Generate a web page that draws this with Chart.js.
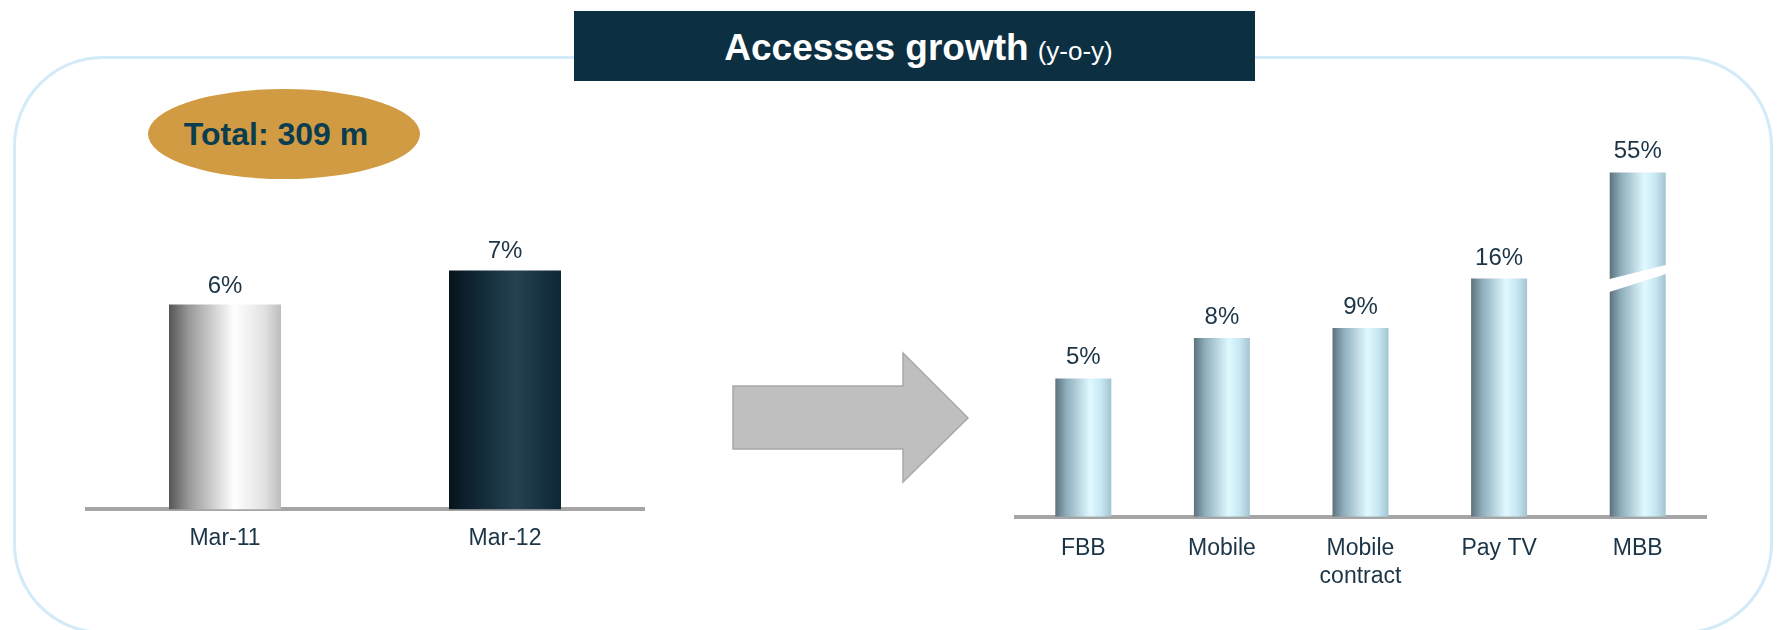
<!DOCTYPE html>
<html>
<head>
<meta charset="utf-8">
<script src="https://cdn.jsdelivr.net/npm/chart.js@4"></script>
<style>
  body { margin: 0; width: 1781px; height: 630px; position: relative; overflow: hidden; background: #fff;
         font-family: "Liberation Sans", Arial, sans-serif; }
  #frame { position: absolute; left: 13px; top: 56px; width: 1760px; height: 578px; box-sizing: border-box;
           border: 3px solid #d3eaf8; border-radius: 90px; }
  #title { position: absolute; left: 574px; top: 11px; width: 681px; height: 70px; background: #0c2f42;
           color: #fff; display: flex; align-items: center; justify-content: center; padding-top: 4px; padding-left: 8px; box-sizing: border-box; }
  #title b { font-size: 37px; }
  #title span { font-size: 26px; margin-left: 9px; margin-top: 6px; }
  #total { position: absolute; left: 148px; top: 89px; width: 272px; height: 90px; border-radius: 50%;
           background: #d19b43; color: #0b3d50; font-weight: bold; font-size: 32px;
           display: flex; align-items: center; justify-content: center; padding-right: 16px; box-sizing: border-box; }
  #arrow { position: absolute; left: 0; top: 0; }
  .box { position: absolute; }
  #leftBox { left: 85px; top: 209px; width: 560px; height: 358px; }
  #rightBox { left: 1014px; top: 121px; width: 693px; height: 487px; }
</style>
</head>
<body>
<div id="frame"></div>
<div id="title"><b>Accesses growth</b><span>(y-o-y)</span></div>
<div id="total">Total: 309 m</div>
<svg id="arrow" width="1781" height="630">
  <polygon points="733,386 903,386 903,353 968,418 903,482 903,449 733,449"
           fill="#bfbfbf" stroke="#a8a8a8" stroke-width="1.5"/>
</svg>
<div class="box" id="leftBox"><canvas id="totalChart"></canvas></div>
<div class="box" id="rightBox"><canvas id="serviceChart"></canvas></div>

<script>
// total accesses growth, y-o-y %
const periods = ['Mar-11', 'Mar-12'];
const totalGrowth = [6, 7];

// growth by service, y-o-y %
const services = ['FBB', 'Mobile', ['Mobile', 'contract'], 'Pay TV', 'MBB'];
const serviceGrowth = [5, 8, 9, 16, 55];
const brokenIndex = services.indexOf('MBB');

const textColor = '#1b3446';
const font = '"Liberation Sans", Arial, sans-serif';

// cylinder-like shading, left to right across each bar
const grayStops = [[0, '#555555'], [0.18, '#999999'], [0.58, '#ffffff'], [0.85, '#e2e2e2'], [1, '#bdbdbd']];
const navyStops = [[0, '#06141c'], [0.3, '#132b39'], [0.6, '#264252'], [0.85, '#15303f'], [1, '#0f2737']];
const iceStops = [[0, '#5d717c'], [0.2, '#8eaebc'], [0.62, '#e0f9ff'], [0.82, '#c6e7f2'], [1, '#a3c3d0']];

function barGradient(stopsFor, pct) {
    return ctx => {
        const chart = ctx.chart;
        const xScale = chart.scales.x;
        const stops = stopsFor(ctx.dataIndex || 0);
        if (ctx.type !== 'data' || !chart.chartArea || !xScale) return stops[2][1];
        const center = xScale.getPixelForValue(ctx.dataIndex);
        const half = xScale.width / chart.data.labels.length * pct / 2;
        const g = chart.ctx.createLinearGradient(center - half, 0, center + half, 0);
        stops.forEach(s => g.addColorStop(s[0], s[1]));
        return g;
    };
}

// "n%" above every bar
const valueLabels = {
    id: 'valueLabels',
    afterDatasetsDraw(chart, args, opts) {
        const ctx = chart.ctx;
        const values = chart.data.datasets[0].data;
        ctx.save();
        ctx.font = `24px ${font}`;
        ctx.fillStyle = textColor;
        ctx.textAlign = 'center';
        ctx.textBaseline = 'alphabetic';
        chart.getDatasetMeta(0).data.forEach((bar, i) => {
            ctx.fillText(values[i] + '%', bar.x, bar.y - opts.gap);
        });
        ctx.restore();
    }
};

// white slanted cut through the MBB bar
const barBreak = {
    id: 'barBreak',
    afterDatasetsDraw(chart) {
        const bar = chart.getDatasetMeta(0).data[brokenIndex];
        if (!bar) return;
        const { x, y, base, width } = bar.getProps(['x', 'y', 'base', 'width'], true);
        const yc = y + (base - y) * 0.305;
        const left = x - width / 2 - 2;
        const right = x + width / 2 + 2;
        const ctx = chart.ctx;
        ctx.save();
        ctx.fillStyle = '#ffffff';
        ctx.beginPath();
        ctx.moveTo(left, yc + 2);
        ctx.lineTo(right, yc - 13);
        ctx.lineTo(right, yc - 4);
        ctx.lineTo(left, yc + 15);
        ctx.closePath();
        ctx.fill();
        ctx.restore();
    }
};

function xAxis(padding) {
    return {
        grid: { display: false, drawTicks: false },
        border: { display: true, color: '#a5a5a5', width: 4 },
        ticks: { color: textColor, font: { family: font, size: 23 }, padding: padding, maxRotation: 0 }
    };
}

new Chart(document.getElementById('totalChart'), {
    type: 'bar',
    data: {
        labels: periods,
        datasets: [{
            data: totalGrowth,
            backgroundColor: barGradient(i => (i === 0 ? grayStops : navyStops), 0.4),
            barPercentage: 0.4,
            categoryPercentage: 1
        }]
    },
    options: {
        responsive: true,
        maintainAspectRatio: false,
        animation: false,
        plugins: { legend: { display: false }, tooltip: { enabled: false }, valueLabels: { gap: 12 } },
        scales: {
            x: xAxis(15),
            y: { display: false, min: 0, max: 8.8 }
        }
    },
    plugins: [valueLabels]
});

new Chart(document.getElementById('serviceChart'), {
    type: 'bar',
    data: {
        labels: services,
        datasets: [{
            data: serviceGrowth,
            backgroundColor: barGradient(() => iceStops, 0.404),
            barPercentage: 0.404,
            categoryPercentage: 1
        }]
    },
    options: {
        responsive: true,
        maintainAspectRatio: false,
        animation: false,
        plugins: { legend: { display: false }, tooltip: { enabled: false }, valueLabels: { gap: 14 } },
        scales: {
            x: xAxis(18),
            y: { type: 'logarithmic', display: false, min: 1, max: 100 }
        }
    },
    plugins: [barBreak, valueLabels]
});
</script>
</body>
</html>
